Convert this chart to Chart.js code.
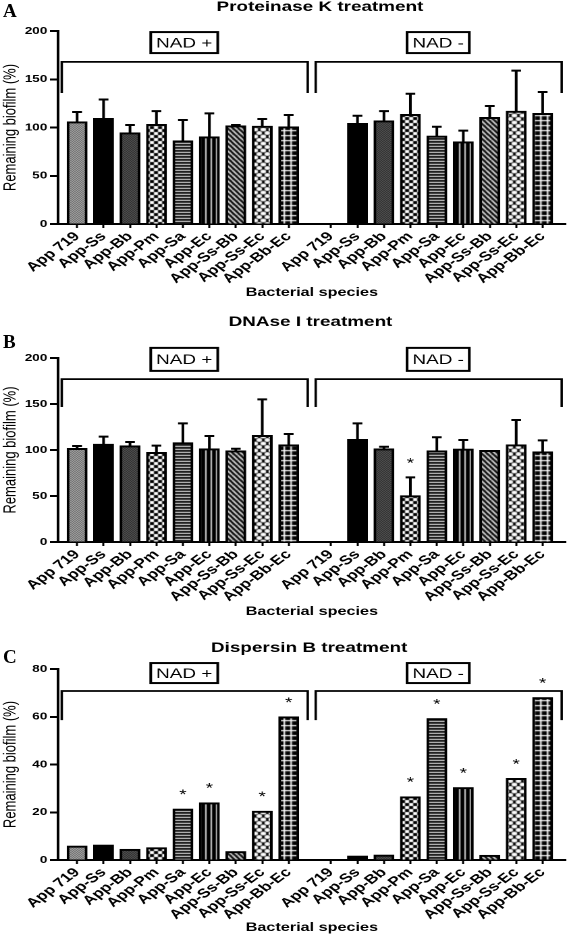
<!DOCTYPE html>
<html>
<head>
<meta charset="utf-8">
<script src="https://cdn.jsdelivr.net/npm/chart.js@4.4.1/dist/chart.umd.min.js"></script>
<style>
html,body{margin:0;padding:0;background:#fff;width:567px;height:938px;overflow:hidden;position:relative;}
.panel{position:absolute;left:0;width:420px;transform:scaleX(1.35);transform-origin:0 0;}
.letter{position:absolute;left:3px;font:bold 19px "Liberation Serif","Times New Roman",serif;line-height:19px;color:#000;}
</style>
</head>
<body>
<div class="panel" style="top:0;height:300px"><canvas id="cA" width="420" height="300"></canvas></div>
<div class="panel" style="top:300px;height:320px"><canvas id="cB" width="420" height="320"></canvas></div>
<div class="panel" style="top:620px;height:318px"><canvas id="cC" width="420" height="318"></canvas></div>
<div class="letter" style="top:1px">A</div>
<div class="letter" style="top:332px">B</div>
<div class="letter" style="top:647px">C</div>
<script>
// ---------- data ----------
const categories = ['App 719','App-Ss','App-Bb','App-Pm','App-Sa','App-Ec','App-Ss-Bb','App-Ss-Ec','App-Bb-Ec'];
const groupLabels = ['NAD +','NAD -'];
const groupStart = [0, 9.6];               // category position of the first bar of each group
const patternKinds = ['fine','solid','dark','checker','hlines','vlines','diag','circles','grid'];
const xTitle = 'Bacterial species';
const yTitle = 'Remaining biofilm (%)';

// A: Proteinase K treatment
const protKTitle = 'Proteinase K treatment';
const protKPlus    = [106, 109.5, 94.6, 103.3, 86.3, 90.5, 101.9, 101.5, 100.8];
const protKPlusSD  = [10, 19.5, 8, 13.7, 21.5, 24.2, 0.7, 7.3, 12.2];
const protKMinus   = [null, 104.3, 107, 113.7, 91.2, 85.3, 110.6, 117, 114.7];
const protKMinusSD = [null, 7.9, 10, 21.3, 9.6, 11.4, 11.7, 41.9, 22.1];
const protKTicks   = [0, 50, 100, 150, 200];

// B: DNAse I treatment
const dnaseTitle = 'DNAse I treatment';
const dnasePlus    = [101.8, 106.5, 104.7, 97.5, 108, 101.4, 99.3, 116, 105.8];
const dnasePlusSD  = [2.5, 8, 4, 7.2, 21, 13.8, 2.1, 39, 11.6];
const dnaseMinus   = [null, 111.6, 101.4, 50.4, 99.3, 101.1, 99.6, 105.8, 98.2];
const dnaseMinusSD = [null, 17.4, 2.2, 19.9, 14.5, 9.8, 0, 26.8, 12.3];
const dnasePlusSig  = [0,0,0,0,0,0,0,0,0];
const dnaseMinusSig = [0,0,0,1,0,0,0,0,0];
const dnaseTicks   = [0, 50, 100, 150, 200];

// C: Dispersin B treatment
const dspBTitle = 'Dispersin B treatment';
const dspBPlus     = [5.9, 6.3, 4.5, 5.2, 21.4, 24.0, 3.6, 20.5, 60.0];
const dspBMinus    = [null, 1.7, 2.1, 26.5, 59.3, 30.4, 2.0, 34.2, 68.1];
const dspBPlusSig  = [0,0,0,0,1,1,0,1,1];
const dspBMinusSig = [0,0,0,1,1,1,0,1,1];
const dspBTicks    = [0, 20, 40, 60, 80];

// ---------- patterns ----------
function makePattern(kind) {
  if (kind === 'solid') return '#000';
  const c = document.createElement('canvas');
  const sizes = {fine:[2,2], dark:[2,2], checker:[6,6], hlines:[1,3], vlines:[4,1], diag:[4,5], circles:[6,7], grid:[5,5]};
  const [w, h] = sizes[kind];
  c.width = w; c.height = h;
  const g = c.getContext('2d');
  if (kind === 'fine') {
    g.fillStyle = '#d8d8d8'; g.fillRect(0,0,2,2);
    g.fillStyle = '#3a3a3a'; g.fillRect(0,0,1,1); g.fillRect(1,1,1,1);
  } else if (kind === 'dark') {
    g.fillStyle = '#707070'; g.fillRect(0,0,2,2);
    g.fillStyle = '#101010'; g.fillRect(0,0,1,1); g.fillRect(1,1,1,1);
  } else if (kind === 'checker') {
    g.fillStyle = '#fff'; g.fillRect(0,0,6,6);
    g.fillStyle = '#000'; g.fillRect(3,0,3,3); g.fillRect(0,3,3,3);
  } else if (kind === 'hlines') {
    g.fillStyle = '#000'; g.fillRect(0,0,1,1);
    g.fillStyle = '#333'; g.fillRect(0,1,1,1);
    g.fillStyle = '#e0e0e0'; g.fillRect(0,2,1,1);
  } else if (kind === 'vlines') {
    g.fillStyle = '#000'; g.fillRect(0,0,4,1);
    g.fillStyle = '#e8e8e8'; g.fillRect(0,0,1,1);
  } else if (kind === 'diag') {
    g.fillStyle = '#000'; g.fillRect(0,0,w,h);
    g.strokeStyle = '#fff'; g.lineWidth = 1.3;
    for (let k = -1; k <= 1; k++) {
      g.beginPath(); g.moveTo(k*w, 0); g.lineTo(k*w + w, h); g.stroke();
    }
  } else if (kind === 'circles') {
    g.fillStyle = '#000'; g.fillRect(0,0,w,h);
    g.fillStyle = '#fff';
    [[0,0],[w,0],[0,h],[w,h],[w/2,h/2]].forEach(([cx,cy]) => {
      g.beginPath(); g.arc(cx, cy, 2.1, 0, Math.PI*2); g.fill();
    });
  } else if (kind === 'grid') {
    g.fillStyle = '#000'; g.fillRect(0,0,w,h);
    g.fillStyle = '#fff'; g.fillRect(0,0,1.2,h); g.fillRect(0,0,w,1.2);
  }
  return g.createPattern(c, 'repeat');
}
const patterns = patternKinds.map(makePattern);

// ---------- annotations (error bars, asterisks, brackets, NAD boxes, title) ----------
function makeAnnot(p) {
  return {
    id: 'annot',
    afterDatasetsDraw(chart) {
      const {ctx, scales: {x, y}} = chart;
      ctx.save();
      ctx.strokeStyle = '#000';
      ctx.fillStyle = '#000';
      // error bars (upward only)
      ctx.lineWidth = 2;
      p.errs.forEach((e, i) => {
        const v = p.vals[i];
        if (v == null || !e) return;
        const px = x.getPixelForValue(p.xs[i]);
        const y0 = y.getPixelForValue(v), y1 = y.getPixelForValue(v + e);
        ctx.beginPath();
        ctx.moveTo(px, y0); ctx.lineTo(px, y1);
        ctx.moveTo(px - 3.6, y1); ctx.lineTo(px + 3.6, y1);
        ctx.stroke();
      });
      // asterisks
      ctx.font = '14px "Liberation Sans", Arial, sans-serif';
      ctx.textAlign = 'center'; ctx.textBaseline = 'alphabetic';
      p.sig.forEach((s, i) => {
        if (!s) return;
        const v = p.vals[i] + (p.errs[i] || 0);
        const px = x.getPixelForValue(p.xs[i]);
        ctx.fillText('*', px, y.getPixelForValue(v) - 10);
      });
      // brackets and NAD boxes
      ctx.lineWidth = 1.8;
      const yt = y.getPixelForValue(p.bracketTop), yl = y.getPixelForValue(p.bracketLeg);
      groupStart.forEach((s, gi) => {
        const xl = x.getPixelForValue(s - 0.58), xr = x.getPixelForValue(s + categories.length - 1 + 0.72);
        ctx.beginPath();
        ctx.moveTo(xl, yl); ctx.lineTo(xl, yt); ctx.lineTo(xr, yt); ctx.lineTo(xr, yl);
        ctx.stroke();
        const cx = x.getPixelForValue(s + (categories.length - 1) / 2 + 0.05);
        const cy = y.getPixelForValue(p.boxCenter);
        ctx.font = '14px "Liberation Sans", Arial, sans-serif';
        const tw = ctx.measureText(groupLabels[gi]).width;
        const bw = tw + 8, bh = p.boxH;
        ctx.fillStyle = '#fff';
        ctx.fillRect(cx - bw/2, cy - bh/2, bw, bh);
        ctx.lineWidth = 2;
        ctx.strokeRect(cx - bw/2, cy - bh/2, bw, bh);
        ctx.lineWidth = 1.8;
        ctx.fillStyle = '#000';
        ctx.textAlign = 'center'; ctx.textBaseline = 'middle';
        ctx.fillText(groupLabels[gi], cx, cy + 1);
      });
      // panel title
      ctx.font = 'bold 14px "Liberation Sans", Arial, sans-serif';
      ctx.textAlign = 'center'; ctx.textBaseline = 'alphabetic';
      ctx.fillText(p.title, p.titleX, p.titleY);
      ctx.restore();
    }
  };
}

Chart.defaults.font.family = '"Liberation Sans", Arial, Helvetica, sans-serif';
Chart.defaults.color = '#000';

function buildPanel(id, p) {
  const xs = groupStart.flatMap(s => categories.map((_, i) => s + i));
  const labels = groupStart.flatMap(() => categories);
  p.xs = xs;
  p.vals = [...p.plus, ...p.minus];
  p.errs = [...(p.plusSD || categories.map(() => 0)), ...(p.minusSD || categories.map(() => 0))];
  p.sig = [...(p.plusSig || categories.map(() => 0)), ...(p.minusSig || categories.map(() => 0))];
  const colors = xs.map((_, i) => patterns[i % categories.length]);
  new Chart(document.getElementById(id), {
    type: 'bar',
    data: {
      datasets: [{
        data: xs.map((xv, i) => ({x: xv, y: p.vals[i]})),
        backgroundColor: colors,
        borderColor: '#000',
        borderWidth: 2,
        barThickness: 14.8
      }]
    },
    options: {
      responsive: false,
      devicePixelRatio: 2,
      animation: false,
      events: [],
      layout: {padding: {top: p.padTop, left: 0, right: 1, bottom: 0}},
      plugins: {legend: {display: false}, tooltip: {enabled: false}},
      scales: {
        x: {
          type: 'linear',
          min: -0.72, max: 18.47,
          offset: false,
          bounds: 'data',
          afterBuildTicks: ax => { ax.ticks = xs.map(v => ({value: v})); },
          afterFit: ax => { ax.height = p.xAxisH; },
          ticks: {
            autoSkip: false, minRotation: 45, maxRotation: 45,
            callback: (v, i) => labels[i],
            font: {size: 12.8, weight: 'bold'}, color: '#000', padding: 1
          },
          grid: {display: true, drawOnChartArea: false, offset: false, drawTicks: true, tickLength: 4, tickWidth: 1.5, tickColor: '#000'},
          border: {display: true, color: '#000', width: 2},
          title: {display: true, text: xTitle, font: {size: 12, weight: 'bold'}, color: '#000', padding: {top: 0, bottom: p.xTitlePad}}
        },
        y: {
          type: 'linear',
          min: p.ticks[0], max: p.ticks[p.ticks.length - 1],
          afterFit: ax => { ax.width = 43; },
          ticks: {stepSize: p.ticks[1] - p.ticks[0], font: {size: 10, weight: 'bold'}, color: '#000', padding: 2},
          grid: {display: true, drawOnChartArea: false, drawTicks: true, tickLength: 6, tickWidth: 2, tickColor: '#000'},
          border: {display: true, color: '#000', width: 2},
          title: {display: true, text: yTitle, font: {size: 13}, color: '#000', padding: {top: 0, bottom: 0}}
        }
      }
    },
    plugins: [makeAnnot(p)]
  });
}

buildPanel('cA', {
  title: protKTitle, titleX: 237, titleY: 11,
  plus: protKPlus, plusSD: protKPlusSD, minus: protKMinus, minusSD: protKMinusSD,
  ticks: protKTicks, padTop: 31, xAxisH: 76, xTitlePad: 0,
  bracketTop: 168, bracketLeg: 135.7, boxCenter: 188, boxH: 21
});
buildPanel('cB', {
  title: dnaseTitle, titleX: 230, titleY: 26,
  plus: dnasePlus, plusSD: dnasePlusSD, minus: dnaseMinus, minusSD: dnaseMinusSD,
  plusSig: dnasePlusSig, minusSig: dnaseMinusSig,
  ticks: dnaseTicks, padTop: 58, xAxisH: 78, xTitlePad: 1,
  bracketTop: 177, bracketLeg: 146.7, boxCenter: 198.5, boxH: 23
});
buildPanel('cC', {
  title: dspBTitle, titleX: 229, titleY: 32,
  plus: dspBPlus, minus: dspBMinus,
  plusSig: dspBPlusSig, minusSig: dspBMinusSig,
  ticks: dspBTicks, padTop: 49, xAxisH: 78, xTitlePad: 3,
  bracketTop: 70.8, bracketLeg: 58.6, boxCenter: 78.3, boxH: 20
});
</script>
</body>
</html>
